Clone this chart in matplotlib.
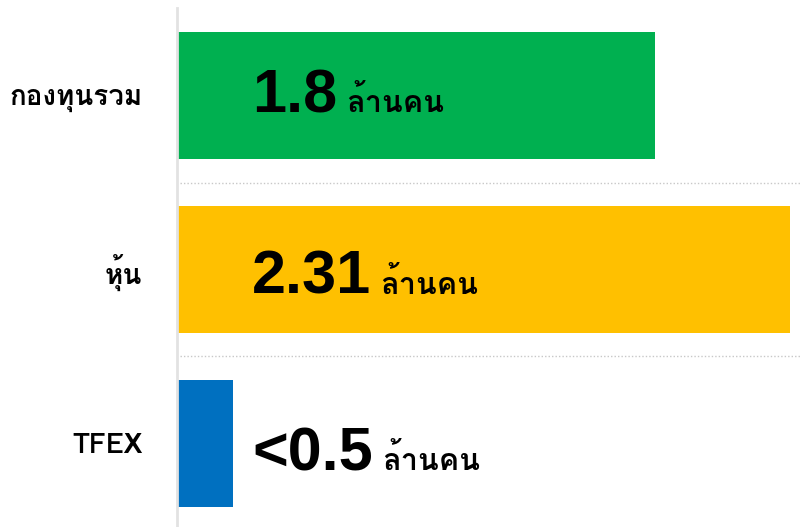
import matplotlib
matplotlib.use("Agg")
import matplotlib.pyplot as plt
from matplotlib import font_manager
from matplotlib.ft2font import FT2Font

categories = ["กองทุนรวม", "หุ้น", "TFEX"]
values = [1.8, 2.31, 0.21]
value_labels = ["1.8", "2.31", "<0.5"]
unit = "ล้านคน"
colors = ["#00b050", "#ffc000", "#0070c0"]

# baseline of the value labels below the bar centre
label_drop = [0.095, 0.14, 0.155]


# look for any installed font that can draw Thai
def find_thai_font():
    best = None
    for f in font_manager.fontManager.ttflist:
        try:
            ft = FT2Font(f.fname)
            if ft.get_char_index(ord("ก")) == 0:
                continue
        except Exception:
            continue
        if best is None or (f.weight in ("bold", 700) and best.weight not in ("bold", 700)):
            best = f
    return best.name if best else None


thai = find_thai_font()
thai_family = [thai, "Liberation Sans", "DejaVu Sans"] if thai else ["Liberation Sans", "DejaVu Sans"]

fig = plt.figure(figsize=(8.03, 5.27), dpi=100)
ax = fig.add_axes([177 / 803, 0, 626 / 803, 1 - 8 / 527])

ypos = list(range(len(categories)))
ax.barh(ypos, values, height=0.73, color=colors, zorder=2)
ax.set_ylim(2.48, -0.503)
ax.set_xlim(0, 2.359)

for y in [0.5, 1.5]:
    ax.axhline(y, xmin=0.005, xmax=1, color="#c8c8c8", linestyle=(0, (1, 1.5)), lw=1, zorder=1)

for s in ["top", "right", "bottom"]:
    ax.spines[s].set_visible(False)
ax.spines["left"].set_color("#e2e2e2")
ax.spines["left"].set_linewidth(2)
ax.set_xticks([])
ax.set_yticks(ypos)
ax.set_yticklabels(categories, fontsize=20, fontweight="bold", family=thai_family)
ax.tick_params(axis="y", length=0, pad=25)

value_texts = []
for y, lab, d in zip(ypos, value_labels, label_drop):
    t = ax.text(0.283, y + d, lab, fontsize=44, fontweight="bold",
                family="Liberation Sans", va="baseline", ha="left", zorder=3)
    value_texts.append(t)

fig.canvas.draw()
inv = ax.transData.inverted()
for y, t, d in zip(ypos, value_texts, label_drop):
    bb = t.get_window_extent()
    xr = inv.transform((bb.x1 + 9, 0))[0]
    ax.text(xr, y + d, unit, fontsize=22, fontweight="bold",
            family=thai_family, va="baseline", ha="left", zorder=3)

fig.savefig("out.png", dpi=100)
